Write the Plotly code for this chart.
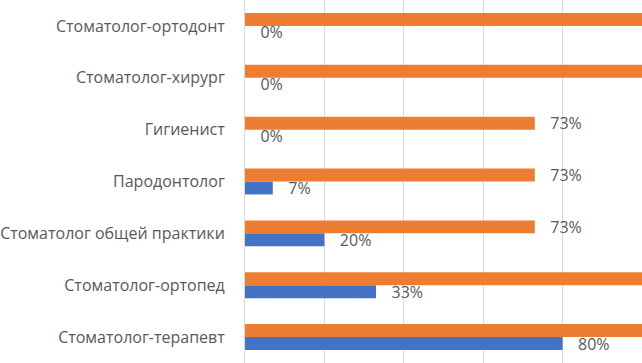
import plotly.graph_objects as go

categories = [
    "Стоматолог-терапевт",
    "Стоматолог-ортопед",
    "Стоматолог общей практики",
    "Пародонтолог",
    "Гигиенист",
    "Стоматолог-хирург",
    "Стоматолог-ортодонт",
]
blue_values = [80, 33, 20, 7, 0, 0, 0]
orange_values = [100, 100, 73, 73, 73, 100, 100]

cat_font = dict(family="Open Sans, Liberation Sans, sans-serif", size=16, color="#595959")
label_font = dict(family="Open Sans, Liberation Sans, sans-serif", size=16, color="#595959")
pad = "\u00a0\u00a0\u00a0"
x_max = 100


def labels(values):
    # labels of bars that run past the visible frame are off-picture in the reference
    return [f"{pad}{v}%" if v < x_max else "" for v in values]


fig = go.Figure()
fig.add_trace(go.Bar(
    y=categories, x=blue_values, orientation="h",
    marker_color="#4472C4", marker_line_width=0,
    text=labels(blue_values), textposition="outside",
    textfont=label_font, cliponaxis=True, constraintext="none",
    hoverinfo="skip",
))
fig.add_trace(go.Bar(
    y=categories, x=orange_values, orientation="h",
    marker_color="#ED7D31", marker_line_width=0,
    text=labels(orange_values), textposition="outside",
    textfont=label_font, cliponaxis=True, constraintext="none",
    hoverinfo="skip",
))

fig.update_layout(
    width=642, height=363,
    margin=dict(l=245, r=0, t=0, b=0, autoexpand=False),
    barmode="group", bargap=0.5, bargroupgap=0,
    showlegend=False,
    plot_bgcolor="white", paper_bgcolor="white",
    xaxis=dict(range=[0, x_max], dtick=20, showgrid=True, gridcolor="#d9d9d9",
               gridwidth=1, showticklabels=False, zeroline=False, ticks="",
               automargin=False),
    yaxis=dict(showline=True, linecolor="#d9d9d9", linewidth=1, ticks="",
               tickfont=cat_font, ticklabelstandoff=16, showgrid=False,
               automargin=False),
)

fig.write_html(
    "out.html",
    config={"displayModeBar": False, "staticPlot": True},
    post_script="document.body.style.margin='0';document.body.style.overflow='hidden';",
)
